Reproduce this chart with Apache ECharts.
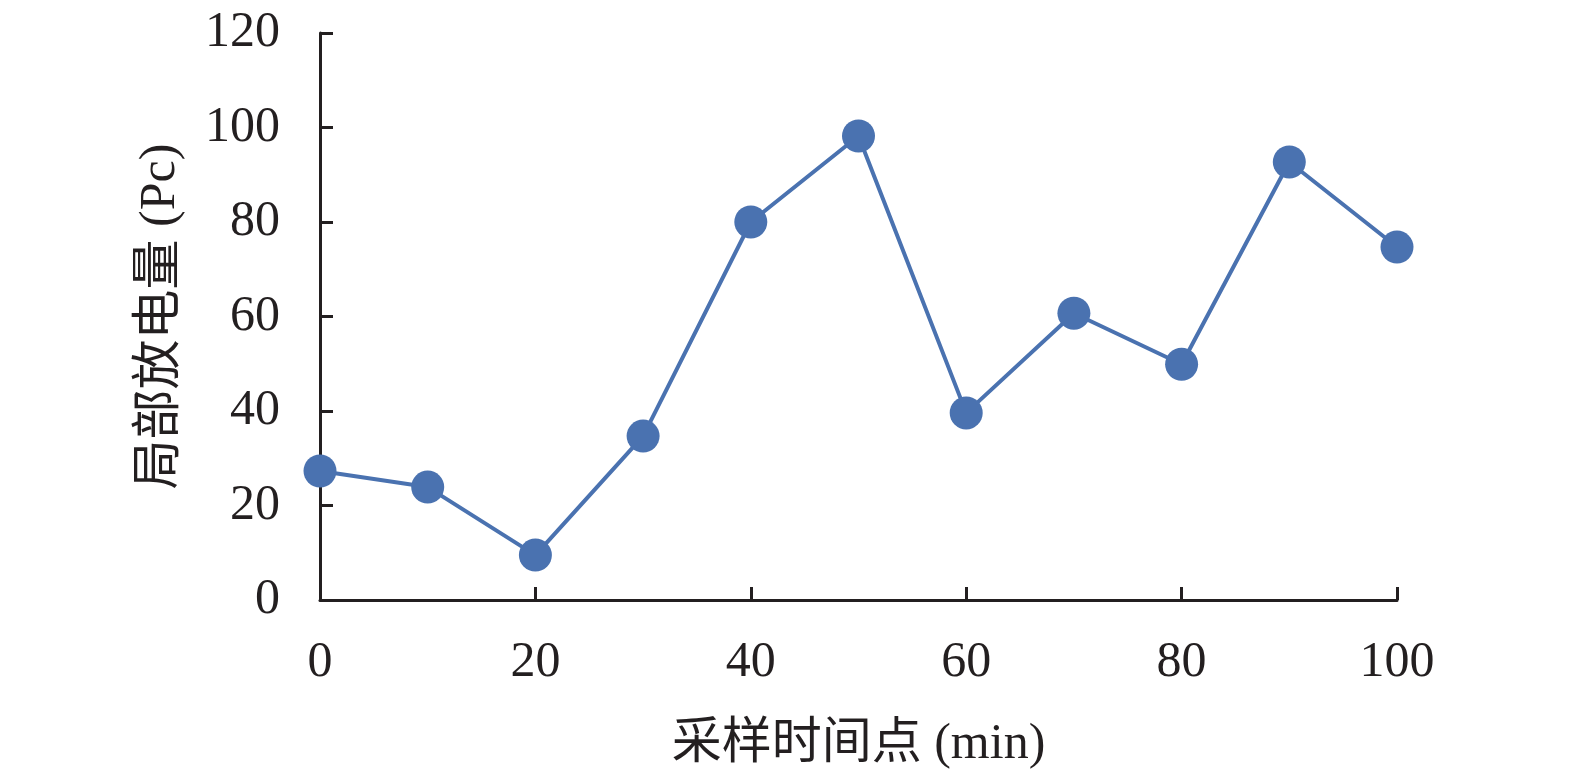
<!DOCTYPE html>
<html><head><meta charset="utf-8">
<script src="https://cdn.jsdelivr.net/npm/echarts@6/dist/echarts.min.js"></script>
<style>html,body{margin:0;padding:0;background:#fff}#c{width:1575px;height:782px}</style>
</head><body><div id="c"></div>
<script>
const times = [0, 10, 20, 30, 40, 50, 60, 70, 80, 90, 100];
const discharge = [27.3, 23.9, 9.5, 34.7, 80.0, 98.2, 39.6, 60.7, 49.9, 92.7, 74.7];
const xTitle = '采样时间点 (min)';
const yTitle = '局部放电量 (Pc)';
const font = '"Liberation Serif", "Times New Roman", "Noto Sans CJK SC", serif';
const axisColor = '#231f20';
const chart = echarts.init(document.getElementById('c'));
chart.setOption({
  animation: false,
  grid: {left: 320, right: 178, top: 33, bottom: 182, containLabel: false},
  xAxis: {
    type: 'value', min: 0, max: 100, interval: 20,
    name: xTitle, nameLocation: 'middle', nameGap: 120,
    nameTextStyle: {fontFamily: font, fontSize: 50, color: axisColor},
    axisLine: {lineStyle: {color: axisColor, width: 3}},
    axisTick: {show: true, inside: true, length: 13, lineStyle: {color: axisColor, width: 3}},
    axisLabel: {fontFamily: font, fontSize: 50, color: axisColor, margin: 38},
    splitLine: {show: false}
  },
  yAxis: {
    type: 'value', min: 0, max: 120, interval: 20,
    name: yTitle, nameLocation: 'middle', nameGap: 134, nameRotate: 90,
    nameTextStyle: {fontFamily: font, fontSize: 50, color: axisColor},
    axisLine: {show: true, lineStyle: {color: axisColor, width: 3}},
    axisTick: {show: true, inside: true, length: 13, lineStyle: {color: axisColor, width: 3}},
    axisLabel: {fontFamily: font, fontSize: 50, color: axisColor, margin: 40},
    splitLine: {show: false}
  },
  series: [{
    type: 'line',
    data: times.map((t, i) => [t, discharge[i]]),
    symbol: 'circle', symbolSize: 33,
    lineStyle: {color: '#4a72b0', width: 4},
    itemStyle: {color: '#4a72b0'}
  }]
});
</script></body></html>
